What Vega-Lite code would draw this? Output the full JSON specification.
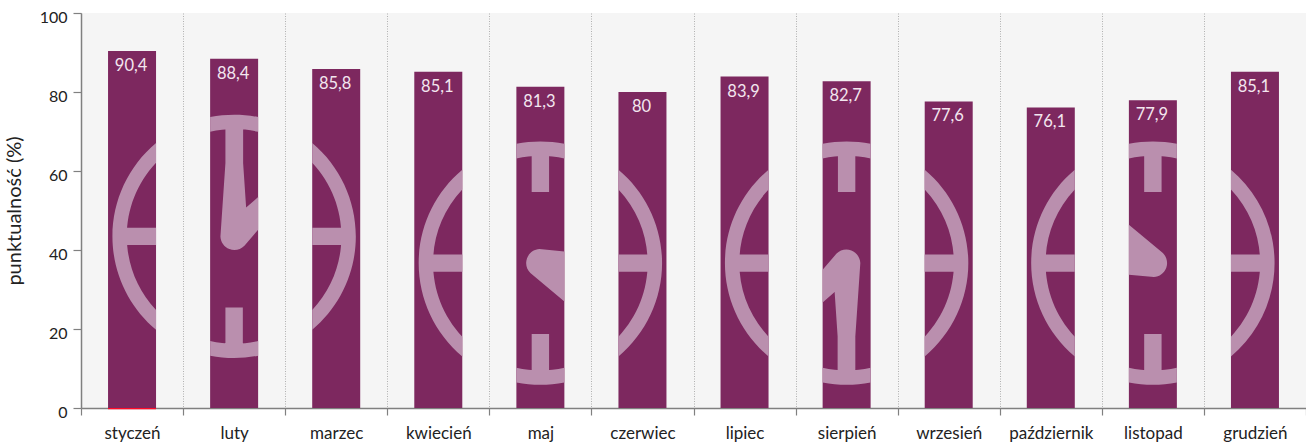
{
  "$schema": "https://vega.github.io/schema/vega-lite/v6.json",
  "width": 1225,
  "height": 395,
  "autosize": {"type": "none"},
  "padding": {"left": 81, "top": 13, "right": 0, "bottom": 38},
  "background": "#ffffff",
  "view": {"fill": "#f5f5f5", "stroke": null},
  "config": {"font": "Lato"},
  "data": {
    "values": [
      {"month": "styczeń", "value": 90.4, "label": "90,4"},
      {"month": "luty", "value": 88.4, "label": "88,4"},
      {"month": "marzec", "value": 85.8, "label": "85,8"},
      {"month": "kwiecień", "value": 85.1, "label": "85,1"},
      {"month": "maj", "value": 81.3, "label": "81,3"},
      {"month": "czerwiec", "value": 80, "label": "80"},
      {"month": "lipiec", "value": 83.9, "label": "83,9"},
      {"month": "sierpień", "value": 82.7, "label": "82,7"},
      {"month": "wrzesień", "value": 77.6, "label": "77,6"},
      {"month": "październik", "value": 76.1, "label": "76,1"},
      {"month": "listopad", "value": 77.9, "label": "77,9"},
      {"month": "grudzień", "value": 85.1, "label": "85,1"}
    ]
  },
  "encoding": {
    "x": {
      "field": "month",
      "type": "nominal",
      "sort": null,
      "scale": {"padding": 0},
      "axis": {
        "title": null,
        "labelAngle": 0,
        "labelFontSize": 17,
        "labelColor": "#222222",
        "labelPadding": 18,
        "labelBaseline": "middle",
        "tickBand": "extent",
        "tickSize": 7,
        "tickColor": "#808080",
        "tickWidth": 1.2,
        "domainColor": "#808080",
        "domainWidth": 1.5,
        "grid": true,
        "gridColor": "#b0b0b0",
        "gridDash": [1, 1.5],
        "gridWidth": 1,
        "encoding": {
          "labels": {
            "update": {
              "dx": {"signal": "({'styczeń': 2, 'luty': 4.5, 'marzec': 7, 'kwiecień': 2, 'maj': -2, 'czerwiec': -7, 'lipiec': -3, 'sierpień': 5})[datum.value] || 0"}
            }
          }
        }
      }
    }
  },
  "layer": [
    {
      "mark": {"type": "bar", "width": 48, "color": "#7d285f"},
      "encoding": {
        "y": {
          "field": "value",
          "type": "quantitative",
          "scale": {"domain": [0, 100], "nice": false},
          "axis": {
            "title": "punktualność (%)",
            "titleFontSize": 20,
            "titleFontWeight": "normal",
            "titleColor": "#222222",
            "titlePadding": 15,
            "values": [0, 5, 10, 15, 20, 25, 30, 35, 40, 45, 50, 55, 60, 65, 70, 75, 80, 85, 90, 95, 100],
            "labelExpr": "datum.value % 20 === 0 ? datum.label : ''",
            "labelFontSize": 16,
            "labelColor": "#222222",
            "labelPadding": 6,
            "labelOffset": 4,
            "labelOverlap": false,
            "grid": false,
            "tickSize": 8,
            "tickColor": "#808080",
            "tickWidth": 1.2,
            "domainColor": "#808080",
            "domainWidth": 1.5,
            "encoding": {
              "ticks": {"update": {"x2": {"signal": "datum.value % 20 === 0 ? -8 : -6"}}}
            }
          }
        }
      }
    },
    {
      "transform": [{"filter": "datum.month === 'styczeń'"}],
      "mark": {"type": "bar", "width": 48, "color": "#ff0a28"},
      "encoding": {"y": {"datum": 0}, "y2": {"datum": -0.3}}
    },
    {
      "mark": {"type": "point", "filled": true, "opacity": 1, "strokeWidth": 0, "color": "#ba8fae", "size": 4},
      "encoding": {
        "y": {"datum": 0},
        "shape": {
          "field": "month",
          "type": "nominal",
          "legend": null,
          "scale": {
            "domain": ["styczeń", "luty", "marzec", "kwiecień", "maj", "czerwiec", "lipiec", "sierpień", "wrzesień", "październik", "listopad", "grudzień"],
            "range": [
              "M24,-264.95 A121.7,121.7 0 0 0 24,-78.25 L24,-98 A107.3,107.3 0 0 1 24,-245.2 Z M-6,-180.3 L-6,-162.9 L24,-162.9 L24,-180.3 Z",
              "M24,-290.9 A121.7,121.7 0 0 0 -24,-290.9 L-24,-276.2 A107.3,107.3 0 0 1 24,-276.2 Z M-24,-52.3 A121.7,121.7 0 0 0 24,-52.3 L24,-67 A107.3,107.3 0 0 1 -24,-67 Z M-8.7,-100.6 L-8.7,-59.6 L8.7,-59.6 L8.7,-100.6 Z M10.3,-162.3 L24,-178.3 L24,-210.9 L12,-200.6 L9,-244.9 L9,-284 L-8.7,-284 L-8.7,-244.9 L-13.7,-171.6 A14,14 0 0 0 10.3,-162.3 Z",
              "M-24,-264.95 A121.7,121.7 0 0 1 -24,-78.25 L-24,-98 A107.3,107.3 0 0 0 -24,-245.2 Z M6,-180.3 L6,-162.9 L-24,-162.9 L-24,-180.3 Z",
              "M24,-238.25 A121.7,121.7 0 0 0 24,-51.55 L24,-71.3 A107.3,107.3 0 0 1 24,-218.5 Z M-6,-153.6 L-6,-136.2 L24,-136.2 L24,-153.6 Z",
              "M-24,-264.2 A121.7,121.7 0 0 1 24,-264.2 L24,-249.5 A107.3,107.3 0 0 0 -24,-249.5 Z M-8.7,-257 L8.7,-257 L8.7,-215.9 L-8.7,-215.9 Z M-24,-25.6 A121.7,121.7 0 0 0 24,-25.6 L24,-40.3 A107.3,107.3 0 0 1 -24,-40.3 Z M-8.7,-73.9 L-8.7,-33 L8.7,-33 L8.7,-73.9 Z M24,-156.6 L-1,-158.9 A14,14 0 0 0 -10,-134.9 L24,-106.6 Z",
              "M-24,-238.25 A121.7,121.7 0 0 1 -24,-51.55 L-24,-71.3 A107.3,107.3 0 0 0 -24,-218.5 Z M6,-153.6 L6,-136.2 L-24,-136.2 L-24,-153.6 Z",
              "M24,-238.25 A121.7,121.7 0 0 0 24,-51.55 L24,-71.3 A107.3,107.3 0 0 1 24,-218.5 Z M-6,-153.6 L-6,-136.2 L24,-136.2 L24,-153.6 Z",
              "M-24,-264.2 A121.7,121.7 0 0 1 24,-264.2 L24,-249.5 A107.3,107.3 0 0 0 -24,-249.5 Z M-8.7,-257 L8.7,-257 L8.7,-215.9 L-8.7,-215.9 Z M-24,-25.6 A121.7,121.7 0 0 0 24,-25.6 L24,-40.3 A107.3,107.3 0 0 1 -24,-40.3 Z M-10.3,-154.2 L-24,-138.2 L-24,-105.6 L-12,-115.9 L-9,-71.6 L-9,-33 L8.7,-33 L8.7,-71.6 L13.7,-144.9 A14,14 0 0 0 -10.3,-154.2 Z",
              "M-24,-238.25 A121.7,121.7 0 0 1 -24,-51.55 L-24,-71.3 A107.3,107.3 0 0 0 -24,-218.5 Z M6,-153.6 L6,-136.2 L-24,-136.2 L-24,-153.6 Z",
              "M24,-238.25 A121.7,121.7 0 0 0 24,-51.55 L24,-71.3 A107.3,107.3 0 0 1 24,-218.5 Z M-6,-153.6 L-6,-136.2 L24,-136.2 L24,-153.6 Z",
              "M-24,-264.2 A121.7,121.7 0 0 1 24,-264.2 L24,-249.5 A107.3,107.3 0 0 0 -24,-249.5 Z M-8.7,-257 L8.7,-257 L8.7,-215.9 L-8.7,-215.9 Z M-24,-25.6 A121.7,121.7 0 0 0 24,-25.6 L24,-40.3 A107.3,107.3 0 0 1 -24,-40.3 Z M-8.7,-73.9 L-8.7,-33 L8.7,-33 L8.7,-73.9 Z M-24,-133.2 L1,-130.9 A14,14 0 0 0 10,-154.9 L-24,-183.2 Z",
              "M-24,-238.25 A121.7,121.7 0 0 1 -24,-51.55 L-24,-71.3 A107.3,107.3 0 0 0 -24,-218.5 Z M6,-153.6 L6,-136.2 L-24,-136.2 L-24,-153.6 Z"
            ]
          }
        }
      }
    },
    {
      "mark": {"type": "text", "dy": 15, "dx": -1, "baseline": "middle", "fontSize": 16.5, "color": "#f3e6ef"},
      "encoding": {
        "y": {"field": "value", "type": "quantitative"},
        "text": {"field": "label"}
      }
    }
  ]
}
